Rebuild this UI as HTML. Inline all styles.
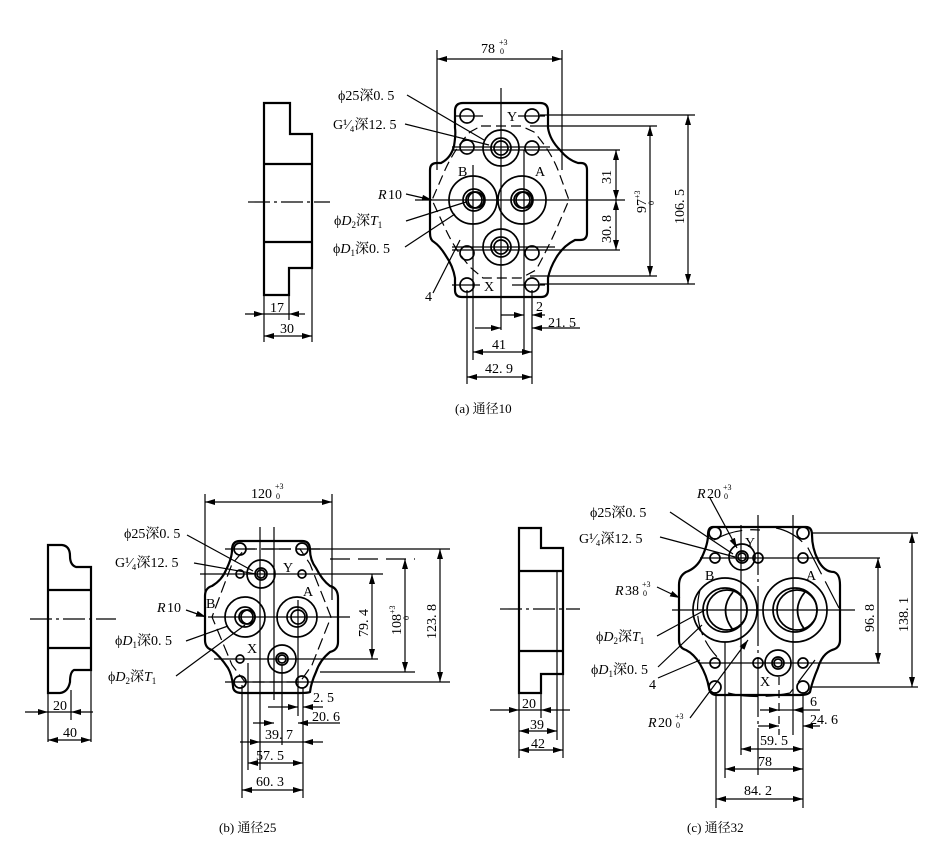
<!DOCTYPE html>
<html><head><meta charset="utf-8"><style>
body{margin:0;background:#fff}
svg{display:block}
text{font-family:"Liberation Serif","Noto Serif CJK SC",serif;font-size:14px;fill:#000}
</style></head><body>
<svg width="927" height="865" viewBox="0 0 927 865" xmlns="http://www.w3.org/2000/svg">
<defs>
<marker id="a" viewBox="0 0 10 6" refX="10" refY="3" markerWidth="10" markerHeight="6" markerUnits="userSpaceOnUse" orient="auto-start-reverse"><path d="M0,0L10,3L0,6z" fill="#000"/></marker>
</defs>
<g fill="none" stroke="#000" stroke-width="1.2">

<!-- ================= (a) ================= -->
<g stroke-width="2.2">
<path d="M264,103H290V134H312V268H289V295H264Z"/>
<line x1="264" y1="164" x2="312" y2="164"/>
<line x1="264" y1="242" x2="312" y2="242"/>
</g>
<line x1="248" y1="202" x2="330" y2="202" stroke-dasharray="22,4,3,4"/>
<line x1="264" y1="295" x2="264" y2="342"/><line x1="289" y1="295" x2="289" y2="320"/><line x1="312" y1="268" x2="312" y2="342"/>
<line x1="245" y1="314" x2="264" y2="314" marker-end="url(#a)"/><line x1="305" y1="314" x2="289" y2="314" marker-end="url(#a)"/><line x1="264" y1="314" x2="289" y2="314"/>
<line x1="264" y1="336" x2="312" y2="336" marker-start="url(#a)" marker-end="url(#a)"/>

<path stroke-width="2.2" d="M463,103H540Q548,103 548,111V128Q550,140 560,150Q568,160 578,163H581Q587,163 587,170V233Q587,240 580,240H575Q563,246 556,258Q550,268 548,278V290Q548,297 541,297H462Q455,297 455,290V278Q453,266 446,256Q440,246 434,242Q430,240 430,233V170Q430,163 437,163H441Q451,158 454,146Q456,134 455,128V111Q455,103 463,103Z"/>
<path stroke-dasharray="10,5" d="M481,126H521L534,132Q550,150 558,170L569,200L556,230Q548,248 536,270L521,278H483L471,268Q455,250 445,228L432,200L445,170Q455,148 470,132Z"/>
<g stroke-width="1.7">
<circle cx="467" cy="116" r="7"/><circle cx="532" cy="116" r="7"/>
<circle cx="467" cy="147" r="7"/><circle cx="532" cy="148" r="7"/>
<circle cx="467" cy="253" r="7"/><circle cx="532" cy="253" r="7"/>
<circle cx="467" cy="285" r="7"/><circle cx="532" cy="285" r="7"/>
<circle cx="501" cy="148" r="18"/><circle cx="501" cy="148" r="10"/><circle cx="501" cy="148" r="7"/>
<circle cx="473" cy="200" r="24"/><circle cx="474" cy="200" r="11"/><circle cx="474" cy="200" r="8"/><circle cx="476" cy="200" r="8"/>
<circle cx="522" cy="200" r="24"/><circle cx="522" cy="200" r="11"/><circle cx="522" cy="200" r="8"/><circle cx="524" cy="200" r="8"/>
<circle cx="501" cy="247" r="18"/><circle cx="501" cy="247" r="10"/><circle cx="501" cy="247" r="7"/>
</g>
<line x1="501" y1="88" x2="501" y2="330"/>
<line x1="415" y1="200" x2="625" y2="200"/>
<line x1="473" y1="165" x2="473" y2="240"/><line x1="524" y1="150" x2="524" y2="352"/>
<line x1="454" y1="116" x2="483" y2="116"/><line x1="518" y1="116" x2="545" y2="116"/>
<line x1="452" y1="147" x2="550" y2="147"/><line x1="452" y1="150" x2="620" y2="150"/>
<line x1="452" y1="247" x2="555" y2="247"/><line x1="452" y1="250" x2="620" y2="250"/>
<line x1="452" y1="285" x2="480" y2="285"/><line x1="512" y1="285" x2="545" y2="285"/>
<line x1="437" y1="50" x2="437" y2="170"/><line x1="562" y1="50" x2="562" y2="170"/>
<line x1="437" y1="59" x2="562" y2="59" marker-start="url(#a)" marker-end="url(#a)"/>
<line x1="540" y1="115" x2="695" y2="115"/><line x1="530" y1="126" x2="657" y2="126"/>
<line x1="530" y1="276" x2="657" y2="276"/><line x1="540" y1="284" x2="695" y2="284"/>
<line x1="688" y1="115" x2="688" y2="284" marker-start="url(#a)" marker-end="url(#a)"/>
<line x1="650" y1="126" x2="650" y2="276" marker-start="url(#a)" marker-end="url(#a)"/>
<line x1="616" y1="150" x2="616" y2="200" marker-start="url(#a)" marker-end="url(#a)"/>
<line x1="616" y1="200" x2="616" y2="250" marker-start="url(#a)" marker-end="url(#a)"/>
<line x1="467" y1="290" x2="467" y2="384"/><line x1="473" y1="240" x2="473" y2="360"/><line x1="532" y1="290" x2="532" y2="384"/>
<line x1="501" y1="315" x2="524" y2="315" marker-end="url(#a)"/><line x1="545" y1="315" x2="532" y2="315" marker-end="url(#a)"/>
<line x1="475" y1="328" x2="501" y2="328" marker-end="url(#a)"/><line x1="580" y1="328" x2="532" y2="328" marker-end="url(#a)"/>
<line x1="473" y1="352" x2="532" y2="352" marker-start="url(#a)" marker-end="url(#a)"/>
<line x1="467" y1="377" x2="532" y2="377" marker-start="url(#a)" marker-end="url(#a)"/>
<line x1="407" y1="95" x2="484" y2="140"/>
<line x1="405" y1="124" x2="489" y2="145"/>
<line x1="406" y1="194" x2="432" y2="200" marker-end="url(#a)"/>
<line x1="406" y1="221" x2="466" y2="202"/>
<line x1="405" y1="247" x2="455" y2="214"/>
<line x1="433" y1="293" x2="460" y2="240"/>
</g>
<g>
<text x="270" y="312">17</text><text x="280" y="333">30</text>
<text x="481" y="53">78</text><text x="499" y="45" style="font-size:8px">+3</text><text x="500" y="54" style="font-size:8px">0</text>
<text x="338" y="100">ϕ25深0. 5</text>
<text x="333" y="129">G¹⁄₄深12. 5</text>
<text x="378" y="199" font-style="italic">R</text><text x="388" y="199">10</text>
<text x="334" y="225">ϕ<tspan font-style="italic">D</tspan><tspan style="font-size:9px" dy="3">2</tspan><tspan dy="-3">深</tspan><tspan font-style="italic">T</tspan><tspan style="font-size:9px" dy="3">1</tspan></text>
<text x="333" y="253">ϕ<tspan font-style="italic">D</tspan><tspan style="font-size:9px" dy="3">1</tspan><tspan dy="-3">深0. 5</tspan></text>
<text x="425" y="301">4</text>
<text x="507" y="121">Y</text><text x="458" y="176">B</text><text x="535" y="176">A</text><text x="484" y="291">X</text>
<text x="536" y="311">2</text><text x="548" y="327">21. 5</text>
<text x="492" y="349">41</text><text x="485" y="373">42. 9</text>
<text transform="translate(611,184) rotate(-90)">31</text>
<text transform="translate(611,243) rotate(-90)">30. 8</text>
<text transform="translate(646,213) rotate(-90)">97<tspan style="font-size:8px" dy="-6">+3</tspan></text>
<text transform="translate(654,205) rotate(-90)" style="font-size:8px">0</text>
<text transform="translate(684,224) rotate(-90)">106. 5</text>
<text x="455" y="413" style="font-size:13px">(a) 通径10</text>
</g>

<!-- ================= (b) ================= -->
<g fill="none" stroke="#000" stroke-width="1.2">
<g stroke-width="2.2">
<path d="M48,545H62Q70,546 70,556Q70,565 76,567H91V670H74Q70,672 70,682Q68,692 60,693H48Z"/>
<line x1="48" y1="590" x2="91" y2="590"/><line x1="48" y1="648" x2="91" y2="648"/>
</g>
<line x1="30" y1="619" x2="116" y2="619" stroke-dasharray="22,4,3,4"/>
<line x1="48" y1="693" x2="48" y2="742"/><line x1="71" y1="690" x2="71" y2="720"/><line x1="91" y1="670" x2="91" y2="742"/>
<line x1="25" y1="712" x2="48" y2="712" marker-end="url(#a)"/><line x1="93" y1="712" x2="71" y2="712" marker-end="url(#a)"/><line x1="48" y1="712" x2="71" y2="712"/>
<line x1="48" y1="740" x2="91" y2="740" marker-start="url(#a)" marker-end="url(#a)"/>

<path stroke-width="2.2" d="M240,541H302Q310,541 310,550Q310,560 316,568Q322,580 330,586Q338,588 338,598V642Q338,650 330,652Q320,660 316,672Q311,683 310,692Q308,693 300,693H242Q233,693 233,686Q232,675 228,668Q220,656 212,650Q205,648 205,640V596Q205,588 212,586Q222,580 226,570Q232,558 232,550Q232,541 240,541Z"/>
<path stroke-dasharray="12,5" d="M245,549H300L310,564L331,617L312,665L300,682H245L232,665L212,617L232,564Z"/>
<g stroke-width="1.7">
<circle cx="240" cy="549" r="6"/><circle cx="302" cy="549" r="6"/>
<circle cx="240" cy="574" r="4"/><circle cx="302" cy="574" r="4"/>
<circle cx="240" cy="659" r="4"/><circle cx="240" cy="682" r="6"/><circle cx="302" cy="682" r="6"/>
<circle cx="261" cy="574" r="14"/><circle cx="261" cy="574" r="6"/><circle cx="261" cy="574" r="4"/>
<circle cx="245" cy="617" r="20"/><circle cx="245" cy="617" r="10"/><circle cx="246" cy="617" r="7"/><circle cx="248" cy="617" r="7"/>
<circle cx="297" cy="617" r="20"/><circle cx="297" cy="617" r="10"/><circle cx="298" cy="617" r="7"/>
<circle cx="282" cy="659" r="14"/><circle cx="282" cy="659" r="6"/><circle cx="282" cy="659" r="4"/>
</g>
<line x1="274" y1="527" x2="274" y2="700"/><line x1="260" y1="527" x2="260" y2="770"/>
<line x1="208" y1="617" x2="350" y2="617"/>
<line x1="225" y1="549" x2="320" y2="549" stroke-dasharray="30,6"/>
<line x1="200" y1="574" x2="383" y2="574"/>
<line x1="214" y1="659" x2="378" y2="659"/>
<line x1="225" y1="682" x2="450" y2="682"/>
<line x1="205" y1="494" x2="205" y2="600"/><line x1="332" y1="494" x2="332" y2="600"/>
<line x1="205" y1="502" x2="332" y2="502" marker-start="url(#a)" marker-end="url(#a)"/>
<line x1="310" y1="549" x2="450" y2="549"/><line x1="330" y1="559" x2="415" y2="559" stroke-dasharray="20,8"/><line x1="320" y1="672" x2="415" y2="672"/>
<line x1="440" y1="549" x2="440" y2="682" marker-start="url(#a)" marker-end="url(#a)"/>
<line x1="405" y1="559" x2="405" y2="672" marker-start="url(#a)" marker-end="url(#a)"/>
<line x1="372" y1="574" x2="372" y2="659" marker-start="url(#a)" marker-end="url(#a)"/>
<line x1="242" y1="685" x2="242" y2="798"/><line x1="248" y1="663" x2="248" y2="770"/>
<line x1="282" y1="665" x2="282" y2="745"/><line x1="298" y1="600" x2="298" y2="716"/><line x1="303" y1="688" x2="303" y2="798"/>
<line x1="268" y1="707" x2="298" y2="707" marker-end="url(#a)"/><line x1="323" y1="707" x2="303" y2="707" marker-end="url(#a)"/>
<line x1="253" y1="723" x2="274" y2="723" marker-end="url(#a)"/><line x1="340" y1="723" x2="298" y2="723" marker-end="url(#a)"/>
<line x1="240" y1="742" x2="260" y2="742" marker-end="url(#a)"/><line x1="323" y1="742" x2="303" y2="742" marker-end="url(#a)"/><line x1="260" y1="742" x2="303" y2="742"/>
<line x1="248" y1="763" x2="303" y2="763" marker-start="url(#a)" marker-end="url(#a)"/>
<line x1="242" y1="790" x2="303" y2="790" marker-start="url(#a)" marker-end="url(#a)"/>
<line x1="187" y1="535" x2="253" y2="571"/>
<line x1="194" y1="563" x2="256" y2="574"/>
<line x1="186" y1="610" x2="206" y2="617" marker-end="url(#a)"/>
<line x1="186" y1="641" x2="228" y2="626"/>
<line x1="176" y1="676" x2="245" y2="625"/>
</g>
<g>
<text x="53" y="710">20</text><text x="63" y="737">40</text>
<text x="251" y="498">120</text><text x="275" y="489" style="font-size:8px">+3</text><text x="276" y="499" style="font-size:8px">0</text>
<text x="124" y="538">ϕ25深0. 5</text>
<text x="115" y="567">G¹⁄₄深12. 5</text>
<text x="157" y="612" font-style="italic">R</text><text x="167" y="612">10</text>
<text x="115" y="645">ϕ<tspan font-style="italic">D</tspan><tspan style="font-size:9px" dy="3">1</tspan><tspan dy="-3">深0. 5</tspan></text>
<text x="108" y="681">ϕ<tspan font-style="italic">D</tspan><tspan style="font-size:9px" dy="3">2</tspan><tspan dy="-3">深</tspan><tspan font-style="italic">T</tspan><tspan style="font-size:9px" dy="3">1</tspan></text>
<text x="206" y="608">B</text><text x="283" y="572">Y</text><text x="303" y="596">A</text><text x="247" y="653">X</text>
<text x="313" y="702">2. 5</text><text x="312" y="721">20. 6</text>
<text x="265" y="739">39. 7</text><text x="256" y="760">57. 5</text><text x="256" y="786">60. 3</text>
<text transform="translate(368,637) rotate(-90)">79. 4</text>
<text transform="translate(401,635) rotate(-90)">108<tspan style="font-size:8px" dy="-6">+3</tspan></text>
<text transform="translate(409,620) rotate(-90)" style="font-size:8px">0</text>
<text transform="translate(436,639) rotate(-90)">123. 8</text>
<text x="219" y="832" style="font-size:13px">(b) 通径25</text>
</g>

<!-- ================= (c) ================= -->
<g fill="none" stroke="#000" stroke-width="1.2">
<g stroke-width="2.2">
<path d="M519,528H541V548H563V674H541V693H519Z"/>
<line x1="519" y1="571" x2="563" y2="571"/><line x1="519" y1="651" x2="563" y2="651"/>
<line x1="557" y1="571" x2="557" y2="651" stroke-width="1.2"/>
</g>
<line x1="500" y1="609" x2="580" y2="609" stroke-dasharray="22,4,3,4"/>
<line x1="519" y1="693" x2="519" y2="758"/><line x1="541" y1="693" x2="541" y2="718"/><line x1="557" y1="651" x2="557" y2="740"/><line x1="563" y1="674" x2="563" y2="758"/>
<line x1="490" y1="710" x2="519" y2="710" marker-end="url(#a)"/><line x1="570" y1="710" x2="541" y2="710" marker-end="url(#a)"/><line x1="519" y1="710" x2="541" y2="710"/>
<line x1="519" y1="731" x2="557" y2="731" marker-start="url(#a)" marker-end="url(#a)"/>
<line x1="519" y1="750" x2="563" y2="750" marker-start="url(#a)" marker-end="url(#a)"/>

<path stroke-width="2.2" d="M713,527H806Q812,527 812,535Q812,548 818,560Q824,572 834,572Q840,574 840,585V640Q840,648 832,650Q822,654 818,668Q812,682 810,692Q808,695 800,695H717Q710,695 709,688Q707,676 700,664Q694,654 686,650Q679,648 679,640V585Q679,576 686,572Q697,568 702,557Q708,544 708,535Q708,527 713,527Z"/>
<path stroke-dasharray="30,8" d="M714,540Q735,528 760,530M776,528Q795,532 808,548L840,610M728,693Q756,700 790,693L815,660"/>
<path d="M700,590Q690,630 720,660" stroke-dasharray="20,6"/>
<g stroke-width="1.7">
<circle cx="715" cy="533" r="6"/><circle cx="803" cy="533" r="6"/>
<circle cx="715" cy="558" r="5"/><circle cx="758" cy="558" r="5"/><circle cx="803" cy="558" r="5"/>
<circle cx="715" cy="663" r="5"/><circle cx="758" cy="663" r="5"/><circle cx="803" cy="663" r="5"/>
<circle cx="715" cy="687" r="6"/><circle cx="803" cy="687" r="6"/>
<circle cx="742" cy="557" r="13"/><circle cx="742" cy="557" r="6"/><circle cx="742" cy="557" r="4"/>
<circle cx="778" cy="663" r="13"/><circle cx="778" cy="663" r="6"/><circle cx="778" cy="663" r="4"/>
<circle cx="725" cy="610" r="32"/><circle cx="725" cy="610" r="22"/><circle cx="727" cy="610" r="20"/>
<circle cx="795" cy="610" r="32"/><circle cx="795" cy="610" r="22"/><circle cx="797" cy="610" r="20"/>
<path d="M733,592Q718,610 733,630M805,592Q790,610 805,630"/>
</g>
<line x1="758" y1="515" x2="758" y2="775" stroke-dasharray="60,4,3,4"/>
<line x1="793" y1="515" x2="793" y2="735"/><line x1="741" y1="525" x2="741" y2="755"/>
<line x1="672" y1="610" x2="855" y2="610"/>
<line x1="700" y1="558" x2="880" y2="558"/><line x1="700" y1="663" x2="880" y2="663"/>
<line x1="812" y1="533" x2="918" y2="533"/><line x1="812" y1="687" x2="918" y2="687"/>
<line x1="912" y1="533" x2="912" y2="687" marker-start="url(#a)" marker-end="url(#a)"/>
<line x1="878" y1="558" x2="878" y2="663" marker-start="url(#a)" marker-end="url(#a)"/>
<line x1="716" y1="692" x2="716" y2="808"/><line x1="725" y1="642" x2="725" y2="778"/>
<line x1="779" y1="677" x2="779" y2="735" stroke-dasharray="8,5"/><line x1="803" y1="693" x2="803" y2="808"/>
<line x1="760" y1="710" x2="779" y2="710" marker-end="url(#a)"/><line x1="820" y1="710" x2="793" y2="710" marker-end="url(#a)"/><line x1="779" y1="710" x2="793" y2="710"/>
<line x1="758" y1="726" x2="779" y2="726" marker-end="url(#a)"/><line x1="820" y1="726" x2="803" y2="726" marker-end="url(#a)"/>
<line x1="741" y1="749" x2="803" y2="749" marker-start="url(#a)" marker-end="url(#a)"/>
<line x1="725" y1="769" x2="803" y2="769" marker-start="url(#a)" marker-end="url(#a)"/>
<line x1="716" y1="799" x2="803" y2="799" marker-start="url(#a)" marker-end="url(#a)"/>
<line x1="670" y1="512" x2="733" y2="554"/>
<line x1="660" y1="537" x2="735" y2="557"/>
<line x1="710" y1="498" x2="737" y2="548" marker-end="url(#a)"/>
<line x1="657" y1="587" x2="680" y2="598" marker-end="url(#a)"/>
<line x1="657" y1="636" x2="705" y2="610"/>
<line x1="658" y1="667" x2="702" y2="625"/>
<line x1="658" y1="678" x2="700" y2="660"/>
<line x1="690" y1="718" x2="748" y2="640" marker-end="url(#a)"/>
</g>
<g>
<text x="522" y="708">20</text><text x="530" y="729">39</text><text x="531" y="748">42</text>
<text x="697" y="498" font-style="italic">R</text><text x="707" y="498">20</text><text x="723" y="490" style="font-size:8px">+3</text><text x="724" y="499" style="font-size:8px">0</text>
<text x="590" y="517">ϕ25深0. 5</text>
<text x="579" y="543">G¹⁄₄深12. 5</text>
<text x="615" y="595" font-style="italic">R</text><text x="625" y="595">38</text><text x="642" y="587" style="font-size:8px">+3</text><text x="643" y="596" style="font-size:8px">0</text>
<text x="596" y="641">ϕ<tspan font-style="italic">D</tspan><tspan style="font-size:9px" dy="3">2</tspan><tspan dy="-3">深</tspan><tspan font-style="italic">T</tspan><tspan style="font-size:9px" dy="3">1</tspan></text>
<text x="591" y="674">ϕ<tspan font-style="italic">D</tspan><tspan style="font-size:9px" dy="3">1</tspan><tspan dy="-3">深0. 5</tspan></text>
<text x="649" y="689">4</text>
<text x="648" y="727" font-style="italic">R</text><text x="658" y="727">20</text><text x="675" y="719" style="font-size:8px">+3</text><text x="676" y="728" style="font-size:8px">0</text>
<text x="705" y="580">B</text><text x="745" y="547">Y</text><text x="806" y="580">A</text><text x="760" y="686">X</text>
<text x="810" y="706">6</text><text x="810" y="724">24. 6</text>
<text x="760" y="745">59. 5</text><text x="758" y="766">78</text><text x="744" y="795">84. 2</text>
<text transform="translate(874,632) rotate(-90)">96. 8</text>
<text transform="translate(908,632) rotate(-90)">138. 1</text>
<text x="687" y="832" style="font-size:13px">(c) 通径32</text>
</g>
</svg>
</body></html>
